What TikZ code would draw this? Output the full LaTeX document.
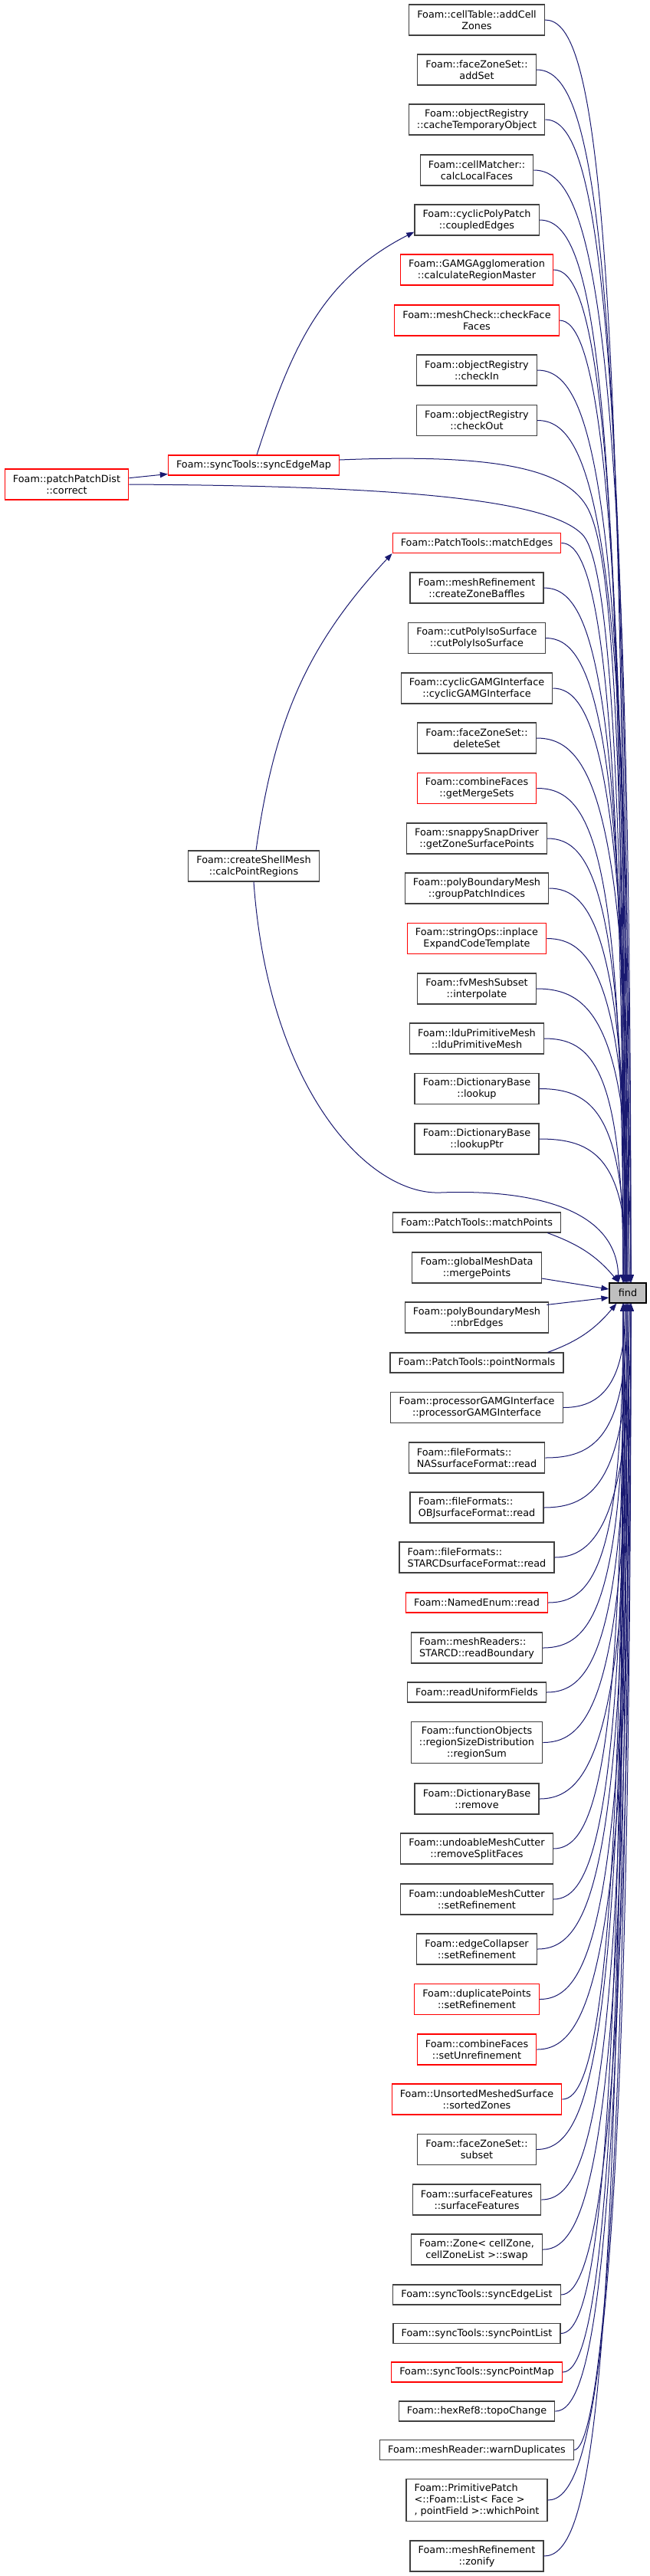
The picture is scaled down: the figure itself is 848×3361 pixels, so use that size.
\documentclass[tikz,border=0pt]{standalone}
\usepackage{fontspec}
\setmainfont{DejaVu Sans}
\usepackage{tikz}
\usetikzlibrary{arrows.meta,calc}
\definecolor{edgeblue}{HTML}{191970}
\definecolor{boxgrey}{HTML}{404040}
\definecolor{focusgrey}{HTML}{BFBFBF}
\definecolor{truncred}{HTML}{FF0000}

\begin{document}
\begin{tikzpicture}[x=0.75pt,y=-0.75pt,
  every node/.style={font=\fontsize{9.6}{11.25}\selectfont},
  fn/.style={draw=boxgrey,line width=0.9pt,fill=white,inner xsep=8pt,inner ysep=3pt,minimum height=19.5pt,align=center},
  two/.style={minimum height=30pt},
  three/.style={minimum height=41pt},
  trunc/.style={fn,draw=truncred},
  focus/.style={fn,draw=black,fill=focusgrey,minimum width=36pt},
  call/.style={-{Triangle[length=7.5pt,width=5.5pt]},draw=edgeblue,line width=0.75pt}]
\useasboundingbox (0,0) rectangle (848,3361);

% callee
\node[focus] (find) at (819,1687) {find};

% callers, left part
\node[trunc,two] (ppd) at (87,632) {Foam::patchPatchDist\\::correct};
\node[trunc] (sem) at (331,607) {Foam::syncTools::syncEdgeMap};
\node[fn,two] (cpr) at (331,1130) {Foam::createShellMesh\\::calcPointRegions};

% callers, right column
\node[fn,two] (addcellzones) at (622,26) {Foam::cellTable::addCell\\Zones};
\node[fn,two] (addset) at (622,91) {Foam::faceZoneSet::\\addSet};
\node[fn,two] (cachetmp) at (622,156) {Foam::objectRegistry\\::cacheTemporaryObject};
\node[fn,two] (calclocal) at (622,222) {Foam::cellMatcher::\\calcLocalFaces};
\node[fn,two] (coupled) at (622,287) {Foam::cyclicPolyPatch\\::coupledEdges};
\node[trunc,two] (calcregion) at (622,352) {Foam::GAMGAgglomeration\\::calculateRegionMaster};
\node[trunc,two] (checkface) at (622,418) {Foam::meshCheck::checkFace\\Faces};
\node[fn,two] (checkin) at (622,483) {Foam::objectRegistry\\::checkIn};
\node[fn,two] (checkout) at (622,548.5) {Foam::objectRegistry\\::checkOut};
\node[trunc] (matchedges) at (622,708.5) {Foam::PatchTools::matchEdges};
\node[fn,two] (zonebaffles) at (622,767) {Foam::meshRefinement\\::createZoneBaffles};
\node[fn,two] (cutpoly) at (622,832.5) {Foam::cutPolyIsoSurface\\::cutPolyIsoSurface};
\node[fn,two] (cyclicgamg) at (622,898) {Foam::cyclicGAMGInterface\\::cyclicGAMGInterface};
\node[fn,two] (deleteset) at (622,963) {Foam::faceZoneSet::\\deleteSet};
\node[trunc,two] (getmerge) at (622,1028.5) {Foam::combineFaces\\::getMergeSets};
\node[fn,two] (zonesurf) at (622,1094) {Foam::snappySnapDriver\\::getZoneSurfacePoints};
\node[fn,two] (grouppatch) at (622,1159) {Foam::polyBoundaryMesh\\::groupPatchIndices};
\node[trunc,two] (expandcode) at (622,1224.5) {Foam::stringOps::inplace\\ExpandCodeTemplate};
\node[fn,two] (interpolate) at (622,1290) {Foam::fvMeshSubset\\::interpolate};
\node[fn,two] (ldumesh) at (622,1355) {Foam::lduPrimitiveMesh\\::lduPrimitiveMesh};
\node[fn,two] (lookup) at (622,1420.5) {Foam::DictionaryBase\\::lookup};
\node[fn,two] (lookupptr) at (622,1486) {Foam::DictionaryBase\\::lookupPtr};
\node[fn] (mpts) at (622,1595) {Foam::PatchTools::matchPoints};
\node[fn,two] (gmd) at (622,1654) {Foam::globalMeshData\\::mergePoints};
\node[fn,two] (nbr) at (622,1719) {Foam::polyBoundaryMesh\\::nbrEdges};
\node[fn] (pn) at (622,1778) {Foam::PatchTools::pointNormals};
\node[fn,two] (procgamg) at (622,1836.5) {Foam::processorGAMGInterface\\::processorGAMGInterface};
\node[fn,two,align=left] (nasread) at (622,1902) {Foam::fileFormats::\\NASsurfaceFormat::read};
\node[fn,two,align=left] (objread) at (622,1967) {Foam::fileFormats::\\OBJsurfaceFormat::read};
\node[fn,two,align=left] (starcdread) at (622,2032) {Foam::fileFormats::\\STARCDsurfaceFormat::read};
\node[trunc] (enumread) at (622,2091) {Foam::NamedEnum::read};
\node[fn,two,align=left] (readboundary) at (622,2150) {Foam::meshReaders::\\STARCD::readBoundary};
\node[fn] (readuniform) at (622,2208) {Foam::readUniformFields};
\node[fn,three] (regionsum) at (622,2273.5) {Foam::functionObjects\\::regionSizeDistribution\\::regionSum};
\node[fn,two] (dictremove) at (622,2347) {Foam::DictionaryBase\\::remove};
\node[fn,two] (removesplit) at (622,2412) {Foam::undoableMeshCutter\\::removeSplitFaces};
\node[fn,two] (undosetref) at (622,2478) {Foam::undoableMeshCutter\\::setRefinement};
\node[fn,two] (edgesetref) at (622,2543) {Foam::edgeCollapser\\::setRefinement};
\node[trunc,two] (duppoints) at (622,2608.5) {Foam::duplicatePoints\\::setRefinement};
\node[trunc,two] (setunref) at (622,2674) {Foam::combineFaces\\::setUnrefinement};
\node[trunc,two] (sortedzones) at (622,2739) {Foam::UnsortedMeshedSurface\\::sortedZones};
\node[fn,two] (subset) at (622,2804.5) {Foam::faceZoneSet::\\subset};
\node[fn,two] (surffeat) at (622,2870) {Foam::surfaceFeatures\\::surfaceFeatures};
\node[fn,two] (zoneswap) at (622,2935) {Foam::Zone< cellZone,\\cellZoneList >::swap};
\node[fn] (syncedgelist) at (622,2994) {Foam::syncTools::syncEdgeList};
\node[fn] (syncpointlist) at (622,3044.5) {Foam::syncTools::syncPointList};
\node[trunc] (syncpointmap) at (622,3095) {Foam::syncTools::syncPointMap};
\node[fn] (topochange) at (622,3146) {Foam::hexRef8::topoChange};
\node[fn] (warndup) at (622,3196.5) {Foam::meshReader::warnDuplicates};
\node[fn,three,align=left] (whichpoint) at (622,3262) {Foam::PrimitivePatch\\<::Foam::List< Face >\\, pointField >::whichPoint};
\node[fn,two] (zonify) at (622,3335) {Foam::meshRefinement\\::zonify};

% calls into find from above
\foreach \n [count=\k] in {addcellzones,addset,cachetmp,calclocal,coupled,calcregion,checkface,checkin,checkout,
    matchedges,zonebaffles,cutpoly,cyclicgamg,deleteset,getmerge,zonesurf,grouppatch,expandcode,interpolate,ldumesh,lookup,lookupptr}{
  \pgfmathsetmacro\dx{mod(\k,5)*2.5-6}
  \draw[call] (\n.east) .. controls ($(find.north |- \n.east)+(-47,0)$)
    and ($(find.north |- \n.east)!0.12!(find.north)+(\dx,0)$) .. ($(find.north)+(\dx,0)$);
}
% calls into find from below
\foreach \n [count=\k] in {procgamg,nasread,objread,starcdread,enumread,readboundary,readuniform,regionsum,dictremove,
    removesplit,undosetref,edgesetref,duppoints,setunref,sortedzones,subset,surffeat,zoneswap,syncedgelist,
    syncpointlist,syncpointmap,topochange,warndup,whichpoint,zonify}{
  \pgfmathsetmacro\dx{mod(\k,5)*2.5-6}
  \draw[call] (\n.east) .. controls ($(find.south |- \n.east)+(-47,0)$)
    and ($(find.south |- \n.east)!0.12!(find.south)+(\dx,0)$) .. ($(find.south)+(\dx,0)$);
}
% the near ones
\draw[call] ($(mpts.south east)+(-18,0)$) to[out=-20,in=130] ($(find.north west)+(13,0)$);
\draw[call] ($(gmd.east)+(0,14)$) -- ($(find.west)+(0,-5)$);
\draw[call] ($(nbr.north east)+(-3,4)$) -- ($(find.west)+(0,6)$);
\draw[call] ($(pn.north east)+(-21,0)$) to[out=20,in=-130] ($(find.south west)+(10,0)$);

% left part
\draw[call] (ppd) -- (sem);
\draw[call] ($(sem.north)+(4,0)$) to[out=72,in=207] ($(coupled.south west)+(0,-5)$);
\draw[call] ($(cpr.north)+(3,0)$) to[out=82,in=227] (matchedges.south west);
\draw[call] ($(sem.east)+(0,-7)$) .. controls (640,592) and (735,610) .. (765,660)
  .. controls (795,710) and (813,900) .. ($(find.north)+(-2,0)$);
\draw[call] (ppd.east) .. controls (490,634) and (720,648) .. (762,700)
  .. controls (788,735) and (813,920) .. ($(find.north)+(-4,0)$);
\draw[call] (cpr.south) .. controls (350,1420) and (480,1560) .. (575,1556)
  .. controls (650,1553) and (803,1560) .. ($(find.north)+(-12,0)$);
\end{tikzpicture}
\end{document}
